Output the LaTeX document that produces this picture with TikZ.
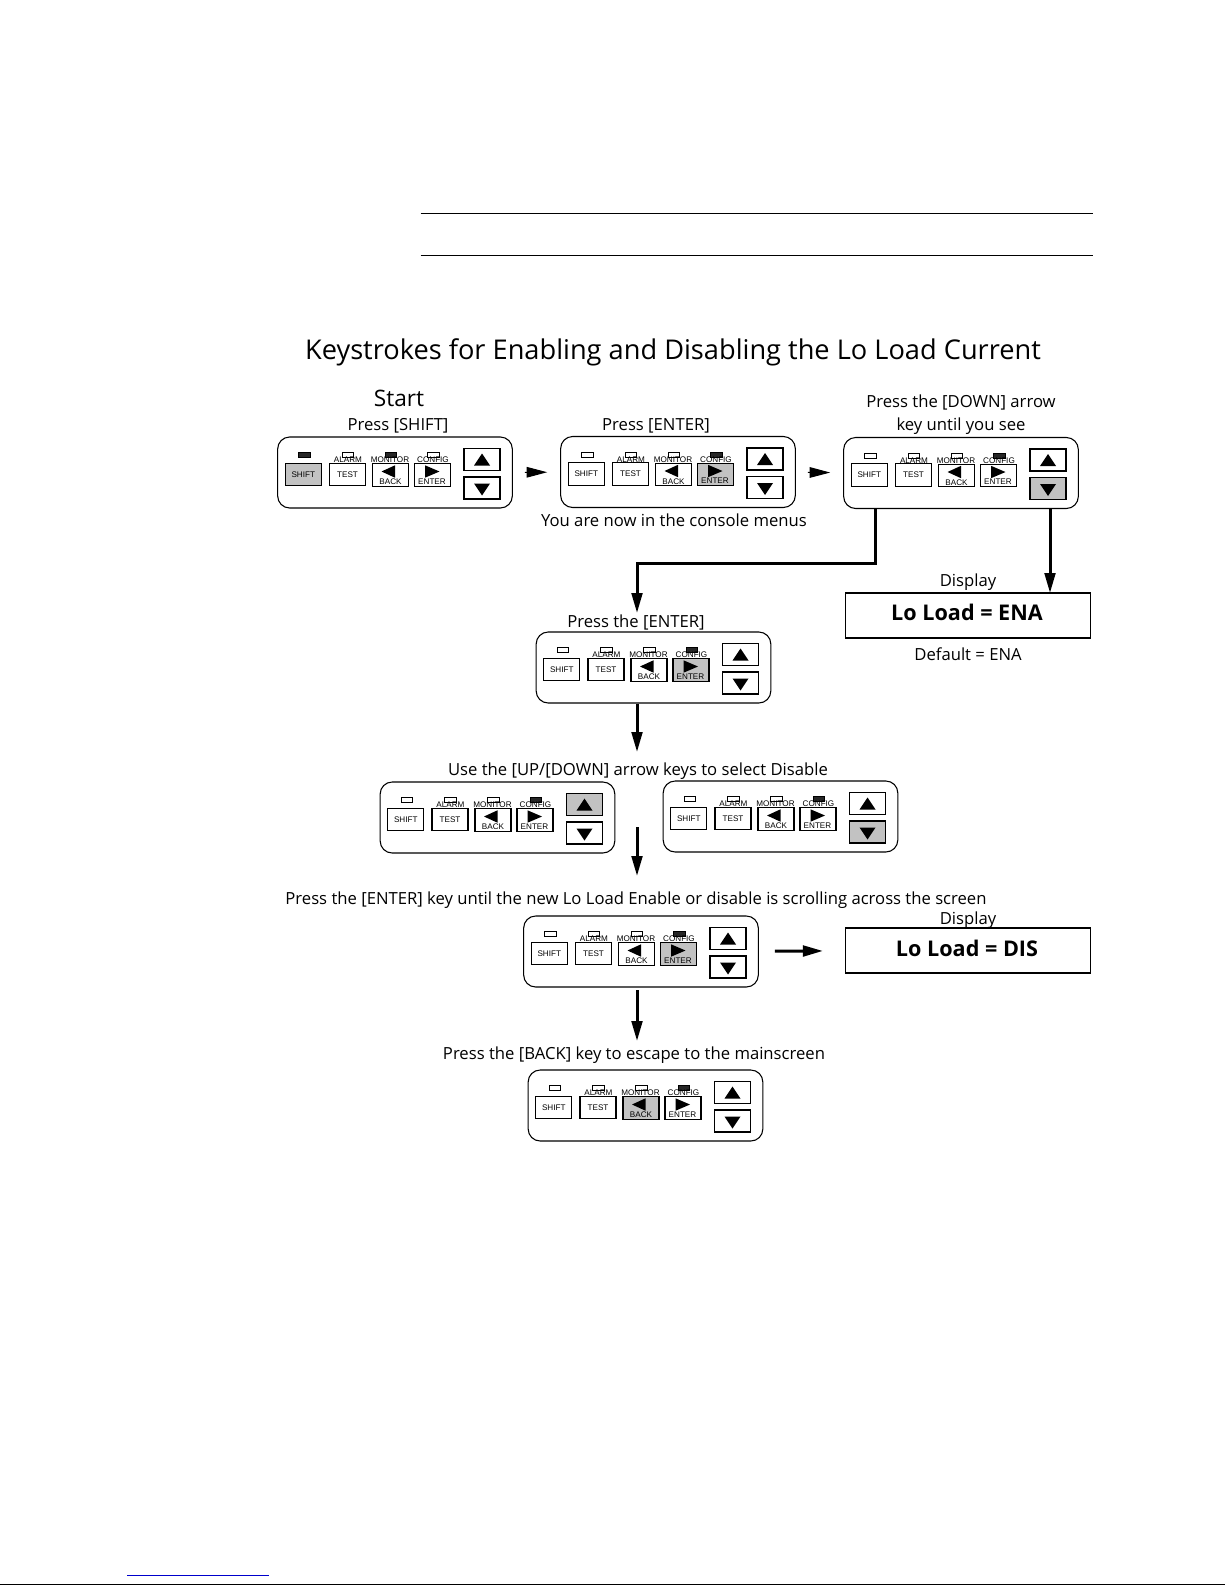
\documentclass[tikz,border=0pt]{standalone}
\usepackage{fontspec}
\setmainfont{Open Sans}
\newfontfamily\keyfont{Liberation Sans}
\usetikzlibrary{arrows.meta}
\definecolor{keygrey}{gray}{0.76}
\tikzset{
  x=0.75pt,y=-0.75pt,
  padbox/.style={draw,rounded corners=9pt,line width=0.8pt,minimum width=176pt,minimum height=53.25pt,inner sep=0},
  keybox/.style={draw,line width=0.85pt,fill=white,minimum width=27pt,minimum height=17pt,inner sep=0,font=\keyfont\fontsize{6.1}{6}\selectfont},
  arrowbox/.style={keybox,minimum height=16.5pt},
  keyshift/.style={keybox},keytest/.style={keybox},keyback/.style={keybox},keyenter/.style={keybox},
  keyup/.style={arrowbox},keydown/.style={arrowbox},
  keypressed/.style={fill=keygrey},
  ledbox/.style={draw,line width=0.5pt,fill=white,minimum width=8.6pt,minimum height=3.8pt,inner sep=0},
  ledlit/.style={ledbox,fill=black!85},
  ledshift/.style={ledbox},ledalarm/.style={ledbox},ledmonitor/.style={ledbox},ledconfig/.style={ledbox},
  keylabel/.style={inner sep=0,font=\keyfont\fontsize{6.1}{6}\selectfont},
  caption/.style={inner sep=0,font=\fontsize{12.5}{17.2}\selectfont,align=center},
  readout/.style={draw,line width=1.1pt,minimum width=183.5pt,minimum height=33.75pt,inner sep=0},
  readtext/.style={inner sep=0,font=\bfseries\fontsize{16.2}{18}\selectfont},
  flow/.style={line width=2.25pt,-{Triangle[length=15pt,width=8pt]}},
  wedge/.style={line width=0.75pt,-{Triangle[length=15.5pt,width=8pt]}},
}
% one key panel: name, left, top, options
\newcommand{\keypad}[4]{%
\begin{scope}[shift={(#2,#3)},#4]
\node[padbox] (#1) at (118,35.5) {};
\foreach \ledname/\ledx in {shift/27.5,alarm/71,monitor/114,config/156.5}
	\node[led\ledname] (#1-led\ledname) at (\ledx,18) {};
\node[keyshift] (#1-shift) at (26.3,37.5) {SHIFT};
\node[keytest] (#1-test) at (70.5,37.5) {TEST};
\node[keyback] (#1-back) at (113.5,38) {};
\node[keyenter] (#1-enter) at (155.5,38) {};
\node[keyup] (#1-up) at (205,22.5) {};
\node[keydown] (#1-down) at (205,51) {};
\node[keylabel] (#1-alarm) at (71,23) {ALARM};
\node[keylabel] (#1-monitor) at (113,22.7) {MONITOR};
\node[keylabel] (#1-config) at (156,22.7) {CONFIG};
\node[keylabel] (#1-backtxt) at (113.5,45) {BACK};
\node[keylabel] (#1-entertxt) at (155,44.5) {ENTER};
\fill (197,28.5)--(213,28.5)--(205,16.5)--cycle;
\fill (197,46.5)--(213,46.5)--(205,58.5)--cycle;
\fill (104.5,34.5)--(118,28.3)--(118,40.7)--cycle;
\fill (162.5,34.5)--(148,28.3)--(148,40.7)--cycle;
\end{scope}}
\begin{document}
\begin{tikzpicture}
\useasboundingbox (0,0) rectangle (1225,1585);
\draw[line width=0.75pt] (420.5,213)--(1093,213);
\draw[line width=0.75pt] (420.5,255)--(1093,255);
\node[inner sep=0,font=\fontsize{20.4}{26}\selectfont] (title) at (673,352) {Keystrokes for Enabling and Disabling the Lo Load Current};
\node[inner sep=0,font=\fontsize{17}{22}\selectfont] (start) at (399,398.5) {Start};
\node[caption] (t1) at (398,426) {Press [SHIFT]};
\node[caption] (t2) at (656,426) {Press [ENTER]};
\node[caption] (t3) at (961,414.5) {Press the [DOWN] arrow\\key until you see};
\node[caption] (t4) at (674,520) {You are now in the console menus};
\node[caption] (t5) at (968,582) {Display};
\node[caption] (t6) at (968,654) {Default = ENA};
\node[caption] (t7) at (636,622.5) {Press the [ENTER]};
\node[caption] (t8) at (638,771) {Use the [UP/[DOWN] arrow keys to select Disable};
\node[caption] (t9) at (636,900) {Press the [ENTER] key until the new Lo Load Enable or disable is scrolling across the screen};
\node[caption] (t10) at (968,920) {Display};
\node[caption] (t11) at (634,1055) {Press the [BACK] key to escape to the mainscreen};
\keypad{pad1}{277}{437}{ledshift/.style=ledlit,ledmonitor/.style=ledlit,keyshift/.append style=keypressed}
\keypad{pad2}{560}{436.5}{ledconfig/.style=ledlit,keyenter/.append style=keypressed}
\keypad{pad3}{843}{437.5}{ledconfig/.style=ledlit,keydown/.append style=keypressed}
\keypad{pad4}{535.5}{632}{ledconfig/.style=ledlit,keyenter/.append style=keypressed}
\keypad{pad5}{379.5}{782}{ledconfig/.style=ledlit,keyup/.append style=keypressed}
\keypad{pad6}{662.5}{781}{ledconfig/.style=ledlit,keydown/.append style=keypressed}
\keypad{pad7}{523}{916}{ledconfig/.style=ledlit,keyenter/.append style=keypressed}
\keypad{pad8}{527.5}{1070}{ledconfig/.style=ledlit,keyback/.append style=keypressed}
\node[readout] (ena) at (968,615.5) {};
\node[readout] (dis) at (968,950.5) {};
\node[readtext] (enatxt) at (967,612.5) {Lo Load = ENA};
\node[readtext] (distxt) at (967,948) {Lo Load = DIS};
\coordinate (b1) at (637,563);
\coordinate (b2) at (637,613);
\coordinate (b3) at (637,752);
\coordinate (b4) at (637,827);
\coordinate (b5) at (637,876);
\coordinate (b6) at (637,1041);
\coordinate (b7) at (637,990);
\coordinate (b8) at (1050,593);
\draw[flow] ([shift={(-86,0)}]pad3.south) |- (b1) -- (b2);
\draw[flow] ([shift={(89,0)}]pad3.south) -- (b8);
\draw[flow] (b3 |- pad4.south) -- (b3);
\draw[flow] (b4) -- (b5);
\draw[flow] (b7) -- (b6);
\draw[flow,shorten <=12pt,shorten >=16.5pt] (pad7) -- (dis);
\draw[wedge,shorten <=9pt,shorten >=9.7pt] (pad1) -- (pad2);
\draw[wedge,shorten <=9pt,shorten >=9.7pt] (pad2) -- (pad3);
\draw[blue!80!black,line width=0.75pt] (127,1575)--(269,1575);
\draw[line width=1.5pt] (0,1584.5)--(1225,1584.5);
\end{tikzpicture}
\end{document}
